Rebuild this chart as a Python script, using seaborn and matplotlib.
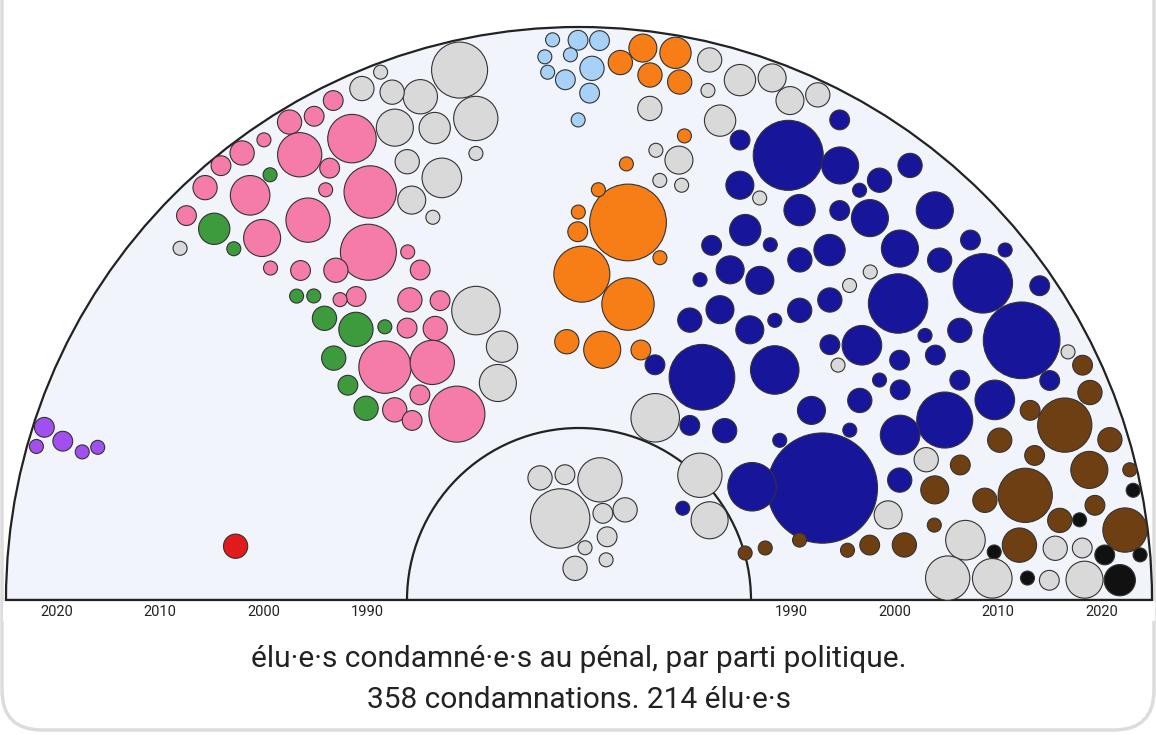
import numpy as np
import pandas as pd
import seaborn as sns
import matplotlib
matplotlib.use("Agg")
import matplotlib.pyplot as plt
from matplotlib.patches import Wedge, FancyBboxPatch, Rectangle

# ---- data: (year, angle in degrees, number of convictions) ----
purple = [(2023.8, 162.1, 2), (2021.7, 162.9, 2), (2019.6, 163.4, 1), (2018.3, 162.4, 1), (2024.0, 164.2, 1)]
red = [(2003.1, 171.1, 3)]
green = [(2019.8, 134.5, 5), (2017.1, 134.5, 1), (2020.3, 126.0, 1), (2009.6, 132.9, 1), (2008.5, 131.1, 1),
         (2006.2, 132.1, 3), (2003.4, 129.5, 6), (2001.9, 125.4, 1), (2002.8, 135.4, 3), (2000.0, 137.1, 2),
         (1997.2, 138.0, 3)]
pink = [(2022.6, 135.6, 2), (2023.3, 132.2, 3), (2023.9, 129.5, 2), (2023.6, 127.0, 3), (2023.4, 124.4, 1),
        (2023.5, 121.2, 3), (2022.8, 118.7, 2), (2023.3, 116.2, 2), (2019.2, 116.2, 12), (2020.3, 122.1, 10),
        (2019.9, 129.1, 8), (2013.8, 117.1, 14), (2014.6, 125.5, 10), (2016.0, 131.2, 7), (2008.8, 121.2, 16),
        (2009.1, 126.4, 3), (2011.2, 130.2, 2), (2013.3, 132.9, 1), (2007.0, 116.2, 1), (2004.9, 115.7, 2),
        (2002.8, 119.4, 3), (2001.4, 114.9, 2), (1999.2, 117.9, 3), (2000.6, 122.3, 2), (2005.9, 126.3, 2),
        (1998.8, 129.8, 14), (1996.5, 121.7, 10), (1991.0, 123.3, 16), (1995.1, 134.1, 3), (1994.6, 127.8, 2),
        (1993.2, 132.9, 2), (2017.7, 120.0, 2), (2016.1, 121.7, 1), (2006.6, 128.5, 1)]
lightblue = [(2023.7, 92.7, 1), (2023.6, 90.1, 2), (2023.6, 87.9, 2), (2022.1, 93.6, 1), (2022.2, 90.9, 1),
             (2020.9, 88.6, 3), (2019.8, 91.5, 2), (2018.5, 88.8, 2), (2015.9, 90.1, 1), (2020.6, 93.4, 1)]
orange = [(2023.2, 83.4, 4), (2023.2, 80.0, 5), (2021.6, 85.6, 3), (2020.7, 82.3, 3), (2020.5, 79.0, 3),
          (2015.5, 77.2, 1), (2006.3, 82.6, 30), (2001.0, 89.5, 16), (1998.5, 80.6, 14), (1993.8, 84.7, 7),
          (1994.5, 92.7, 3), (2005.1, 90.2, 2), (2007.0, 90.1, 1), (2009.2, 87.3, 1), (2011.9, 83.8, 1),
          (2003.5, 76.7, 1), (1994.4, 76.1, 2)]
blue = [(2017.0, 64.8, 25), (1995.4, 24.7, 62), (1994.1, 61.1, 22), (2019.1, 38.1, 18), (2019.1, 30.4, 30),
        (2011.6, 42.9, 18), (2008.9, 26.2, 16), (2015.5, 47.6, 7), (2015.9, 52.7, 7), (2018.5, 59.0, 7),
        (1989.5, 33.2, 12), (1998.7, 49.6, 12), (2006.3, 42.0, 8), (2004.4, 27.2, 8), (2020.5, 47.6, 7),
        (2014.1, 25.7, 8), (2008.7, 65.8, 5), (2004.6, 65.4, 4), (2005.0, 60.5, 4), (2012.8, 60.5, 5),
        (2011.1, 54.4, 5), (2008.7, 57.0, 3), (2012.5, 68.8, 4), (2000.7, 64.1, 4), (1998.6, 68.4, 3),
        (2000.4, 57.7, 4), (1993.4, 72.1, 2), (1989.5, 57.6, 2), (1991.1, 49.3, 3), (1998.5, 39.2, 4),
        (2002.8, 35.4, 3), (2006.6, 33.2, 2), (2008.2, 36.8, 2), (2011.3, 34.5, 2), (2012.0, 30.0, 2),
        (2014.6, 35.3, 3), (2017.4, 43.3, 3), (2020.9, 42.6, 2), (2023.4, 34.3, 2), (2019.4, 54.4, 3),
        (2022.3, 52.7, 3), (2022.3, 61.5, 2), (2016.6, 70.7, 2), (2007.3, 50.1, 3), (2004.7, 52.7, 3),
        (2004.1, 45.5, 2), (1994.3, 38.5, 1), (2002.6, 20.5, 3), (1982.9, 41.5, 1),
        (2006.1, 69.5, 2), (2008.5, 61.7, 1), (2005.5, 36.2, 1), (2000.4, 32.1, 1), (2011.6, 37.4, 1),
        (2022.8, 39.4, 1), (2019.7, 25.0, 2), (2002.6, 69.3, 1), (2002.5, 55.0, 1), (2017.5, 55.6, 1),
        (2014.8, 56.2, 2)]
brown = [(2019.4, 19.8, 15), (2013.8, 13.2, 15), (2020.4, 14.3, 7), (2022.7, 7.3, 10), (2012.4, 7.1, 6),
         (2009.9, 13.8, 3), (2013.0, 20.8, 3), (2005.5, 17.2, 4), (2015.7, 17.6, 2), (2022.8, 22.1, 3),
         (2023.2, 25.0, 2), (2023.1, 16.8, 3), (2016.6, 9.4, 3), (2020.2, 10.4, 2), (2001.4, 9.6, 3),
         (1998.1, 10.7, 2), (1995.9, 10.5, 1), (2008.6, 19.5, 2), (2016.8, 22.8, 2), (2024.2, 13.3, 1),
         (1986.2, 15.8, 1), (1988.2, 15.6, 1), (1991.6, 15.2, 1), (2004.6, 11.9, 1)]
black = [(2021.8, 2.1, 5), (2020.5, 4.9, 2), (2024.1, 11.2, 1), (2023.9, 4.6, 1), (2012.9, 2.8, 1),
         (2009.9, 6.6, 1), (2018.5, 9.1, 1)]
grey = [(2020.9, 138.6, 1),
        (2022.0, 102.7, 16), (2017.1, 102.1, 10), (2020.5, 107.5, 6), (2021.8, 110.2, 3), (2023.2, 113.0, 3),
        (2018.5, 111.3, 7), (2017.2, 107.0, 5), (2024.0, 110.6, 1), (2015.0, 111.4, 3), (2012.4, 108.0, 8),
        (2011.4, 112.7, 4), (2009.1, 110.9, 1), (2013.8, 103.0, 1), (1999.2, 109.6, 12), (1995.1, 106.9, 5),
        (1991.9, 110.5, 7),
        (2017.5, 81.8, 3), (2023.2, 76.4, 3), (2022.1, 72.8, 5), (2020.3, 75.8, 1), (2017.8, 73.6, 5),
        (2023.3, 69.7, 4), (2021.9, 67.1, 4), (2023.5, 64.7, 3), (2013.1, 77.2, 4), (2013.6, 80.3, 1),
        (2010.8, 76.1, 1), (2010.8, 79.1, 1),
        (1977.6, 103.0, 18), (1981.3, 80.1, 10), (1981.9, 107.7, 3), (1981.7, 96.4, 2), (1978.2, 74.6, 2),
        (1979.3, 62.9, 3), (1976.2, 66.0, 2), (1974.6, 83.4, 1), (1972.6, 97.1, 3), (1974.2, 56.0, 1),
        (1988.6, 67.3, 12), (1986.3, 45.9, 10), (1984.3, 31.4, 7),
        (2007.3, 8.8, 8), (2005.2, 3.4, 10), (2009.5, 3.0, 8), (2015.8, 6.2, 3), (2018.4, 5.9, 2),
        (2018.4, 2.3, 7), (2015.0, 2.4, 2), (2022.5, 26.9, 1), (2005.7, 22.0, 3), (2000.5, 15.4, 4),
        (2009.6, 49.3, 1), (2011.9, 48.4, 1), (2003.3, 42.2, 1), (2012.1, 65.8, 1)]

parties = {"violet": purple, "rouge": red, "vert": green, "rose": pink, "bleu clair": lightblue,
           "orange": orange, "bleu": blue, "marron": brown, "noir": black, "gris": grey}
palette = {"violet": "#a24ff0", "rouge": "#e31a1c", "vert": "#3d9a3d", "rose": "#f57ca8",
           "bleu clair": "#a8d1f7", "orange": "#f77e16", "bleu": "#17159a", "marron": "#6e3f12",
           "noir": "#111111", "gris": "#d9d9d9"}
tick_years = [1990, 2000, 2010, 2020]

# ---- scales ----
CX, CY = 579, 600
R_OUT, R_IN = 573, 172
def year_to_r(y):
    return 212 + (np.asarray(y) - 1990) * 10.35

rows = []
for p, lst in parties.items():
    for yr, ang, n in lst:
        rows.append((p, yr, ang, n))
df = pd.DataFrame(rows, columns=["party", "year", "angle", "n"])
rr = year_to_r(df["year"])
df["x"] = CX + rr * np.cos(np.radians(df["angle"]))
df["y"] = CY - rr * np.sin(np.radians(df["angle"]))

sns.set_theme(style="white")
plt.rcParams["font.family"] = ["Roboto", "DejaVu Sans"]

fig = plt.figure(figsize=(11.56, 7.35), dpi=100)
ax = fig.add_axes([0, 0, 1, 1])
ax.set_xlim(0, 1156)
ax.set_ylim(735, 0)
ax.set_aspect("equal")
ax.axis("off")

# card border
ax.add_patch(FancyBboxPatch((2, -60), 1152, 790, boxstyle="round,pad=0,rounding_size=40",
                            fc="white", ec="#dcdcdc", lw=2.5, zorder=0))
# semicircle
ax.add_patch(Wedge((CX, CY), R_OUT, 180, 360, fc="#f1f5fb", ec="#222", lw=1.6, zorder=1))
ax.add_patch(Wedge((CX, CY), R_IN, 180, 360, fc="#f1f5fb", ec="#222", lw=1.6, zorder=1))
ax.add_patch(Rectangle((CX - R_OUT - 3, CY + 0.8), 2 * R_OUT + 6, 20, fc="white", ec="none", zorder=2))
ax.plot([CX - R_OUT, CX + R_OUT], [CY, CY], color="#222", lw=1.6, zorder=3)

# bubbles: area proportional to count -> s = 101.6 * n  (radius 7px per unit)
sns.scatterplot(data=df, x="x", y="y", hue="party", palette=palette, size="n",
                sizes=(101.6, 101.6 * 62), size_norm=(1, 62), edgecolor="#333", linewidth=0.8,
                legend=False, ax=ax, zorder=4, alpha=1)
ax.set_xlim(0, 1156)
ax.set_ylim(735, 0)

# ticks
for y in tick_years:
    r = float(year_to_r(y))
    for x in (CX - r, CX + r):
        ax.text(x, 612, str(y), ha="center", va="center", fontsize=10.5, color="#222")

ax.text(CX, 659, "élu·e·s condamné·e·s au pénal, par parti politique.", ha="center", va="center",
        fontsize=21.5, color="#222")
ax.text(CX, 700, "358 condamnations. 214 élu·e·s", ha="center", va="center", fontsize=21.5, color="#222")

fig.savefig("out.png", dpi=100)
